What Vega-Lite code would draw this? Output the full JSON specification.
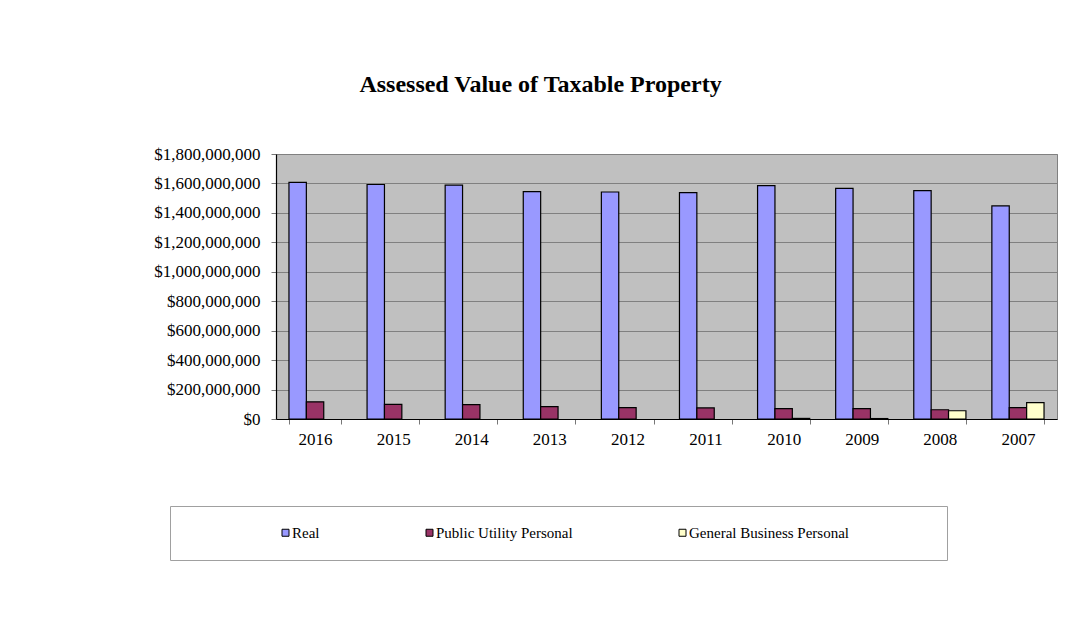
{
  "$schema": "https://vega.github.io/schema/vega-lite/v6.json",
  "width": 781,
  "height": 265,
  "autosize": {"type": "none"},
  "padding": {"left": 276, "top": 154, "right": 20, "bottom": 199},
  "background": "white",
  "title": {
    "text": "Assessed Value of Taxable Property",
    "font": "Liberation Serif",
    "fontSize": 24,
    "fontWeight": "bold",
    "color": "black",
    "anchor": "middle",
    "dx": -126,
    "offset": 48
  },
  "data": {
    "values": [
      {"year": "2016", "type": "Real", "value": 1607000000},
      {"year": "2016", "type": "Public Utility Personal", "value": 117000000},
      {"year": "2015", "type": "Real", "value": 1593000000},
      {"year": "2015", "type": "Public Utility Personal", "value": 99000000},
      {"year": "2014", "type": "Real", "value": 1589000000},
      {"year": "2014", "type": "Public Utility Personal", "value": 97000000},
      {"year": "2013", "type": "Real", "value": 1544000000},
      {"year": "2013", "type": "Public Utility Personal", "value": 84000000},
      {"year": "2012", "type": "Real", "value": 1542000000},
      {"year": "2012", "type": "Public Utility Personal", "value": 77000000},
      {"year": "2011", "type": "Real", "value": 1537000000},
      {"year": "2011", "type": "Public Utility Personal", "value": 75000000},
      {"year": "2010", "type": "Real", "value": 1585000000},
      {"year": "2010", "type": "Public Utility Personal", "value": 70000000},
      {"year": "2010", "type": "General Business Personal", "value": 4000000},
      {"year": "2009", "type": "Real", "value": 1566000000},
      {"year": "2009", "type": "Public Utility Personal", "value": 70000000},
      {"year": "2009", "type": "General Business Personal", "value": 3000000},
      {"year": "2008", "type": "Real", "value": 1551000000},
      {"year": "2008", "type": "Public Utility Personal", "value": 63000000},
      {"year": "2008", "type": "General Business Personal", "value": 56000000},
      {"year": "2007", "type": "Real", "value": 1447000000},
      {"year": "2007", "type": "Public Utility Personal", "value": 77000000},
      {"year": "2007", "type": "General Business Personal", "value": 111000000}
    ]
  },
  "mark": {"type": "bar", "stroke": "black", "strokeWidth": 1.2},
  "encoding": {
    "x": {
      "field": "year",
      "type": "nominal",
      "sort": "descending",
      "scale": {"paddingInner": 0.332, "paddingOuter": 0.166},
      "axis": {
        "title": null,
        "labelAngle": 0,
        "labelFont": "Liberation Serif",
        "labelFontSize": 17,
        "labelColor": "black",
        "labelPadding": 7,
        "tickBand": "extent",
        "tickSize": 5,
        "tickColor": "#777777",
        "domainColor": "black",
        "domainWidth": 1.2,
        "grid": false
      }
    },
    "xOffset": {
      "field": "type",
      "type": "nominal",
      "sort": ["Real", "Public Utility Personal", "General Business Personal"],
      "scale": {"domain": ["Real", "Public Utility Personal", "General Business Personal"], "paddingInner": 0, "paddingOuter": 0}
    },
    "y": {
      "field": "value",
      "type": "quantitative",
      "scale": {"domain": [0, 1800000000], "nice": false},
      "axis": {
        "title": null,
        "values": [0, 200000000, 400000000, 600000000, 800000000, 1000000000, 1200000000, 1400000000, 1600000000, 1800000000],
        "format": "$,.0f",
        "labelFont": "Liberation Serif",
        "labelFontSize": 17,
        "labelColor": "black",
        "labelPadding": 11,
        "tickSize": 5,
        "tickColor": "#777777",
        "domainColor": "black",
        "domainWidth": 1.2,
        "grid": true,
        "gridColor": "#808080",
        "gridWidth": 1
      }
    },
    "color": {
      "field": "type",
      "type": "nominal",
      "scale": {
        "domain": ["Real", "Public Utility Personal", "General Business Personal"],
        "range": ["#9999FF", "#993366", "#FFFFCC"]
      },
      "legend": {
        "orient": "none",
        "legendX": -106,
        "legendY": 352,
        "direction": "horizontal",
        "columns": 3,
        "title": " ",
        "titleOrient": "left",
        "titleFontSize": 1,
        "titlePadding": 89,
        "padding": 19,
        "strokeColor": "#A0A0A0",
        "fillColor": "white",
        "symbolType": "square",
        "symbolSize": 49,
        "symbolStrokeColor": "black",
        "symbolStrokeWidth": 1,
        "symbolOpacity": 1,
        "labelFont": "Liberation Serif",
        "labelFontSize": 15,
        "labelColor": "black",
        "labelOffset": -1,
        "columnPadding": 102,
        "labelLimit": 400,
        "labelExpr": "datum.label == 'General Business Personal' ? datum.label + '\u00a0\u00a0\u00a0\u00a0\u00a0\u00a0\u00a0\u00a0\u00a0\u00a0\u00a0\u00a0\u00a0\u00a0\u00a0\u00a0\u00a0\u00a0\u00a0\u00a0\u00a0\u200b' : datum.label"
      }
    }
  },
  "config": {
    "view": {"fill": "#C0C0C0", "stroke": "#808080", "strokeWidth": 1}
  }
}
